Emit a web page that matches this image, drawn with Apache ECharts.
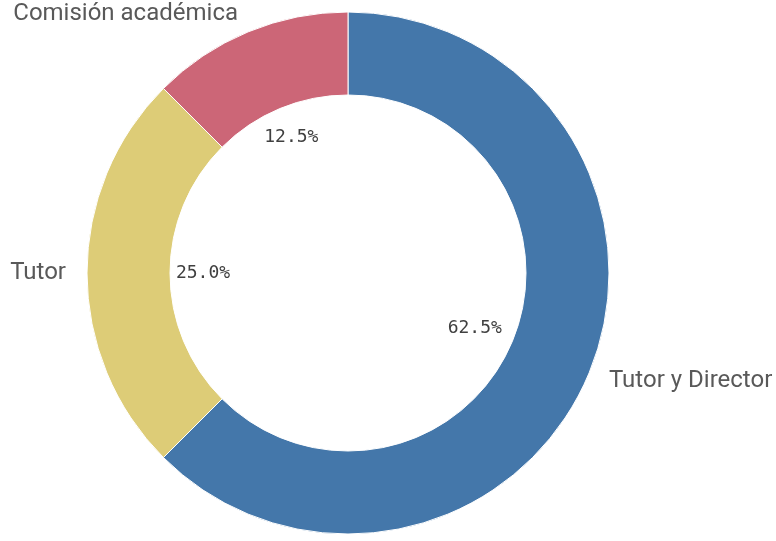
<!DOCTYPE html>
<html>
<head>
<meta charset="utf-8">
<style>html,body{margin:0;padding:0;background:#fff}#c{width:776px;height:541px}</style>
<script src="https://cdn.jsdelivr.net/npm/echarts@6/dist/echarts.min.js"></script>
</head>
<body>
<div id="c"></div>
<script>
const categories = ['Tutor y Director', 'Tutor', 'Comisión académica'];
const counts = [5, 2, 1];
const colors = ['#4477aa', '#ddcc77', '#cc6677'];

const total = counts.reduce((a, b) => a + b, 0);
// small label nudges (style only)
const pctLabelOffsets = [[-10, -1], [3, 0], [0, 1]];
const nameLabelOffsets = [[0, 2], [0, 0], [1, -3]];

const data = categories.map((c, i) => ({
  name: c, value: counts[i],
  itemStyle: { color: colors[i] },
  label: { offset: nameLabelOffsets[i] }
}));

const chart = echarts.init(document.getElementById('c'), null, { renderer: 'canvas' });
chart.setOption({
  animation: false,
  series: [
    {
      type: 'pie',
      center: [348, 273],
      radius: [178, 261],
      startAngle: 90,
      clockwise: true,
      avoidLabelOverlap: false,
      silent: true,
      itemStyle: { borderColor: '#ffffff', borderWidth: 1 },
      label: {
        show: true,
        position: 'outside',
        fontFamily: 'Roboto',
        fontSize: 24,
        color: '#595959',
        formatter: '{b}'
      },
      labelLine: { show: false, length: 16, length2: 0 },
      data: data
    },
    {
      type: 'pie',
      center: [348, 273],
      radius: [0, 290],
      startAngle: 90,
      clockwise: true,
      silent: true,
      itemStyle: { color: 'rgba(0,0,0,0)' },
      label: {
        show: true,
        position: 'inside',
        fontFamily: 'DejaVu Sans Mono',
        fontSize: 18,
        color: '#404040',
        formatter: p => (p.value / total * 100).toFixed(1) + '%'
      },
      labelLine: { show: false },
      data: categories.map((c, i) => ({ name: c, value: counts[i], label: { offset: pctLabelOffsets[i] } }))
    }
  ]
});
</script>
</body>
</html>
